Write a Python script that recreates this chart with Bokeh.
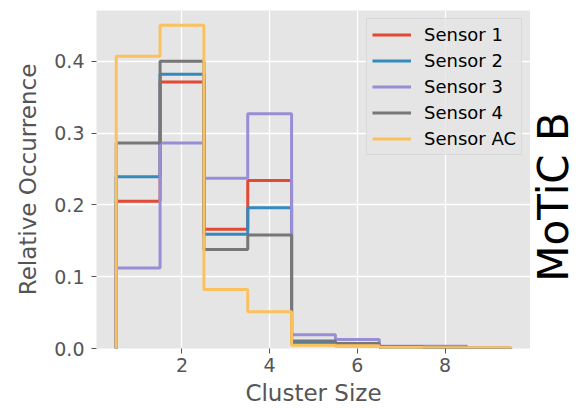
import numpy as np
from bokeh.plotting import figure
from bokeh.layouts import row
from bokeh.models import Range1d, FixedTicker, Legend, LegendItem, CustomJSTickFormatter
from bokeh.core.properties import value
from bokeh.embed import file_html
from bokeh.resources import INLINE

# Data (relative occurrence per cluster size 1..9)
cluster_sizes = [1, 2, 3, 4, 5, 6, 7, 8, 9]
sensor1 = [0.205, 0.371, 0.166, 0.234, 0.008, 0.004, 0.002, 0.001, 0.0005]
sensor2 = [0.239, 0.382, 0.159, 0.196, 0.008, 0.005, 0.002, 0.001, 0.0005]
sensor3 = [0.112, 0.286, 0.237, 0.327, 0.019, 0.0125, 0.003, 0.003, 0.0005]
sensor4 = [0.286, 0.400, 0.138, 0.158, 0.0106, 0.007, 0.002, 0.001, 0.0005]
sensorAC = [0.407, 0.450, 0.082, 0.051, 0.0046, 0.004, 0.0015, 0.001, 0.001]
series_names = ["Sensor 1", "Sensor 2", "Sensor 3", "Sensor 4", "Sensor AC"]
series_values = [sensor1, sensor2, sensor3, sensor4, sensorAC]
colors = ["#E24A33", "#348ABD", "#988ED5", "#777777", "#FBC15E"]
x_ticks = [2, 4, 6, 8]
y_ticks = [0.0, 0.1, 0.2, 0.3, 0.4]
side_title = "MoTiC B"

FONT = "DejaVu Sans"
TXT = "#555555"

p = figure(width=530, height=408, output_backend="svg", toolbar_location=None,
           x_range=Range1d(0.05, 9.95), y_range=Range1d(0, 0.4706),
           min_border_left=96, min_border_right=0, min_border_top=10, min_border_bottom=59)
p.background_fill_color = "#E5E5E5"
p.border_fill_color = "white"
p.outline_line_color = None

p.xgrid.grid_line_color = "white"
p.ygrid.grid_line_color = "white"
p.xgrid.grid_line_width = 1.3
p.ygrid.grid_line_width = 1.3

p.xaxis.ticker = FixedTicker(ticks=x_ticks)
p.yaxis.ticker = FixedTicker(ticks=y_ticks)
p.yaxis.formatter = CustomJSTickFormatter(code="return tick.toFixed(1);")
p.xaxis.axis_label = "Cluster Size"
p.yaxis.axis_label = "Relative Occurrence"
for ax in (p.xaxis, p.yaxis):
    ax.axis_line_color = None
    ax.major_tick_line_color = TXT
    ax.major_tick_in = 0
    ax.major_tick_out = 5
    ax.minor_tick_line_color = None
    ax.major_label_text_font = FONT
    ax.major_label_text_font_size = "19px"
    ax.major_label_text_color = TXT
    ax.axis_label_text_font = FONT
    ax.axis_label_text_font_size = "23px"
    ax.axis_label_text_font_style = "normal"
    ax.axis_label_text_color = TXT
p.xaxis.major_label_standoff = 4
p.yaxis.major_label_standoff = 7
p.xaxis.axis_label_standoff = 5
p.yaxis.axis_label_standoff = 10

edges = np.arange(len(cluster_sizes) + 1) + 0.5
items = []
for name, vals, col in zip(series_names, series_values, colors):
    xs = np.repeat(edges, 2)
    ys = np.concatenate([[0.0], np.repeat(np.array(vals), 2), [0.0]])
    r = p.line(xs, ys, line_color=col, line_width=3)
    items.append(LegendItem(label=name, renderers=[r]))

legend = Legend(items=items, location="top_right")
legend.label_text_font = FONT
legend.label_text_font_size = "18px"
legend.label_text_color = "black"
legend.background_fill_color = "#E5E5E5"
legend.background_fill_alpha = 0.8
legend.border_line_color = "#CCCCCC"
legend.border_line_width = 1
legend.glyph_width = 39
legend.glyph_height = 21
legend.label_height = 21
legend.label_standoff = 13
legend.spacing = 5
legend.padding = 5
legend.margin = 8
p.add_layout(legend)

# side panel holding the vertical "MoTiC B" text
q = figure(width=49, height=408, output_backend="svg", toolbar_location=None,
           x_range=Range1d(0, 49), y_range=Range1d(0, 408),
           x_axis_type=None, y_axis_type=None,
           min_border_left=0, min_border_right=0, min_border_top=0, min_border_bottom=0)
q.outline_line_color = None
q.background_fill_color = "white"
q.border_fill_color = "white"
q.grid.visible = False
q.text(x=[23], y=[183], text=[side_title], angle=np.pi / 2,
       text_align="center", text_baseline="middle",
       text_font=value(FONT), text_font_size="42px", text_color="black")

layout = row(p, q, spacing=0)
open("out.html", "w").write(file_html(layout, INLINE))
